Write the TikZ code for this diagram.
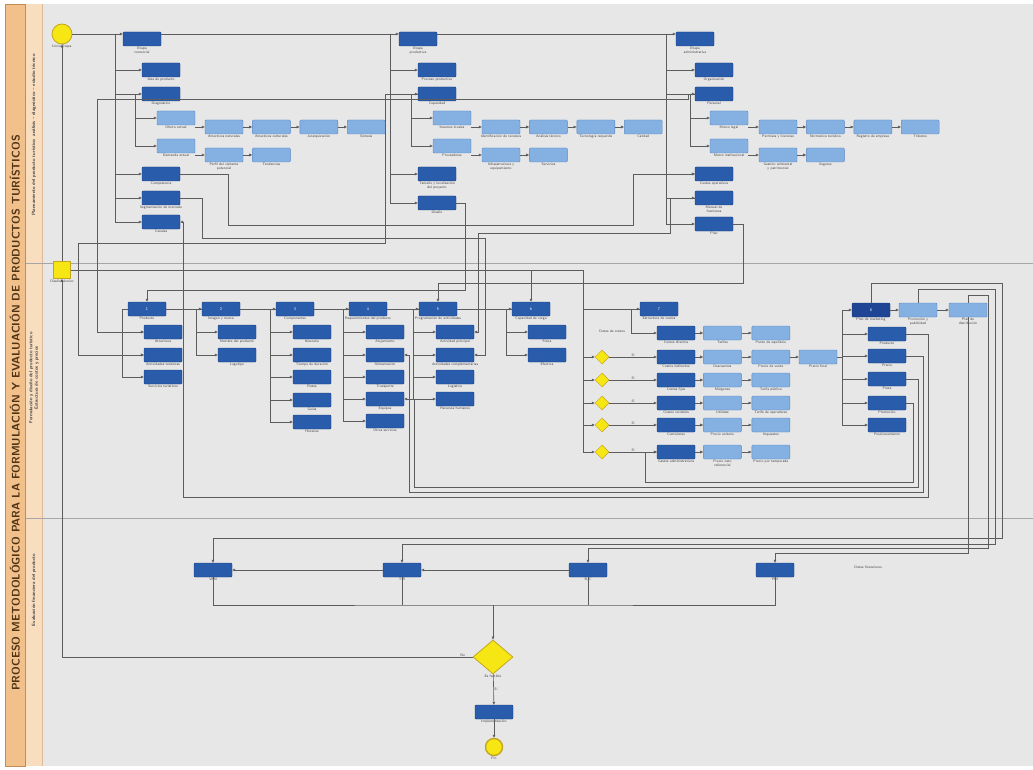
\documentclass[tikz,border=0pt]{standalone}
\usepackage{amsmath,amssymb}
\usepackage{xcolor}
\usepackage{tikz}
\usetikzlibrary{arrows.meta,positioning,shapes.geometric}

\definecolor{canvas}{RGB}{231,231,231}
\definecolor{bandA}{RGB}{242,192,138}
\definecolor{bandB}{RGB}{248,221,190}
\definecolor{bandline}{RGB}{196,140,84}
\definecolor{dkblue}{RGB}{42,92,172}
\definecolor{dkedge}{RGB}{26,62,130}
\definecolor{nvblue}{RGB}{30,70,148}
\definecolor{ltblue}{RGB}{132,176,226}
\definecolor{ltedge}{RGB}{88,134,198}
\definecolor{evyellow}{RGB}{246,230,20}
\definecolor{goldedge}{RGB}{196,166,30}
\definecolor{wire}{RGB}{92,92,92}
\definecolor{titlebrown}{RGB}{80,50,20}

\begin{document}
\begin{tikzpicture}[x=1pt,y=-1pt,
  node distance=9pt,
  dbox/.style={draw=dkedge,fill=dkblue,rounded corners=1pt,minimum height=14pt,
              minimum width=38pt,inner sep=0pt,font=\fontsize{4}{4}\selectfont\sffamily,text=white},
  lbox/.style={dbox,draw=ltedge,fill=ltblue},
  lbl/.style={font=\fontsize{3.6}{4}\selectfont\sffamily,align=center,inner sep=0.6pt,text=black!75},
  gate/.style={diamond,draw=goldedge,fill=evyellow,line width=0.5pt,minimum width=14pt,
              minimum height=14pt,inner sep=0pt},
  event/.style={circle,draw=goldedge,fill=evyellow,inner sep=0pt},
  line/.style={draw=wire,line width=0.6pt},
  arr/.style={line,-{Triangle[length=3pt,width=2.6pt]}},
  lane/.style={rotate=90,font=\fontsize{4.6}{5.6}\selectfont\sffamily\bfseries,text=black!75,align=center}
]
\useasboundingbox (0,0) rectangle (1033,770);
\fill[white] (0,0) rectangle (1033,770);
\fill[canvas] (5,4) rectangle (1033,766);
\fill[bandA] (5,4) rectangle (25,766);
\fill[bandB] (26,4) rectangle (42,766);
\draw[bandline,line width=0.8pt] (5,4) rectangle (25,766);
\draw[bandline!60,line width=0.5pt] (42,4) -- (42,766);
\draw[black!35,line width=0.7pt] (26,263) -- (1033,263);
\draw[black!35,line width=0.7pt] (26,518) -- (1033,518);

\node[rotate=90,font=\sffamily\bfseries\fontsize{11}{13}\selectfont,text=titlebrown] (ttl) at (15,413)
  {PROCESO METODOLÓGICO PARA LA FORMULACIÓN Y EVALUACIÓN DE PRODUCTOS TURÍSTICOS};
\node[lane] (ln1) at (34,135) {Planeamiento del producto turístico: análisis -- diagnóstico -- estudio técnico};
\node[lane] (ln2) at (34,378) {Formulación y diseño del producto turístico\\Estructura de costos y precios};
\node[lane] (ln3) at (34,590) {Evaluación financiera del producto};

\node[event,minimum size=20pt,line width=0.8pt,label={[lbl]below:Inicio Etapa}] (ini) at (62,34) {};
\node[dbox,label={[lbl]below:{Etapa\\comercial}}] (e1) at (142,39) {};
\node[dbox,label={[lbl]below:{Etapa\\productiva}}] (e2) at (418,39) {};
\node[dbox,label={[lbl]below:{Etapa\\administrativa}}] (e3) at (695,39) {};

\node[dbox,label={[lbl]below:Idea de producto}] (a1) at (161,70) {};
\node[dbox,label={[lbl]below:Diagnóstico}] (a2) at (161,94) {};
\node[lbox,label={[lbl]below:Oferta actual}] (a3) at (176,118) {};
\node[lbox,label={[lbl]below:Demanda actual}] (a4) at (176,146) {};
\node[lbox,label={[lbl]below:Atractivos naturales}] (a31) at (224,127) {};
\node[lbox,right=of a31,label={[lbl]below:Atractivos culturales}] (a32) {};
\node[lbox,right=of a32,label={[lbl]below:Jerarquización}] (a33) {};
\node[lbox,right=of a33,label={[lbl]below:Síntesis}] (a34) {};
\node[lbox,label={[lbl]below:{Perfil del visitante\\potencial}}] (a41) at (224,155) {};
\node[lbox,right=of a41,label={[lbl]below:Tendencias}] (a42) {};
\node[dbox,label={[lbl]below:Competencia}] (a5) at (161,174) {};
\node[dbox,label={[lbl]below:Segmentación de mercado}] (a6) at (161,198) {};
\node[dbox,label={[lbl]below:Canales}] (a7) at (161,222) {};

\node[dbox,label={[lbl]below:Proceso productivo}] (b1) at (437,70) {};
\node[dbox,label={[lbl]below:Capacidad}] (b2) at (437,94) {};
\node[lbox,label={[lbl]below:Insumos locales}] (b3) at (452,118) {};
\node[lbox,label={[lbl]below:Proveedores}] (b4) at (452,146) {};
\node[lbox,label={[lbl]below:Identificación de recursos}] (b31) at (501,127) {};
\node[lbox,right=of b31,label={[lbl]below:Análisis técnico}] (b32) {};
\node[lbox,right=of b32,label={[lbl]below:Tecnología requerida}] (b33) {};
\node[lbox,right=of b33,label={[lbl]below:Calidad}] (b34) {};
\node[lbox,label={[lbl]below:{Infraestructura y\\equipamiento}}] (b41) at (501,155) {};
\node[lbox,right=of b41,label={[lbl]below:Servicios}] (b42) {};
\node[dbox,label={[lbl]below:{Tamaño y localización\\del proyecto}}] (b5) at (437,174) {};
\node[dbox,label={[lbl]below:Diseño}] (b6) at (437,203) {};

\node[dbox,label={[lbl]below:Organización}] (c1) at (714,70) {};
\node[dbox,label={[lbl]below:Personal}] (c2) at (714,94) {};
\node[lbox,label={[lbl]below:Marco legal}] (c3) at (729,118) {};
\node[lbox,label={[lbl]below:Marco institucional}] (c4) at (729,146) {};
\node[lbox,label={[lbl]below:Permisos y licencias}] (c31) at (778,127) {};
\node[lbox,right=of c31,label={[lbl]below:Normativa turística}] (c32) {};
\node[lbox,right=of c32,label={[lbl]below:Registro de empresa}] (c33) {};
\node[lbox,right=of c33,label={[lbl]below:Tributos}] (c34) {};
\node[lbox,label={[lbl]below:{Gestión ambiental\\y patrimonial}}] (c41) at (778,155) {};
\node[lbox,right=of c41,label={[lbl]below:Seguros}] (c42) {};
\node[dbox,label={[lbl]below:Costos operativos}] (c5) at (714,174) {};
\node[dbox,label={[lbl]below:{Manual de\\funciones}}] (c6) at (714,198) {};
\node[dbox,label={[lbl]below:Plan}] (c7) at (714,224) {};

\node[fill=evyellow,draw=goldedge,line width=0.6pt,minimum size=17pt,inner sep=0pt,
      label={[lbl]below:Diseño técnico}] (sq) at (62,270) {};

\node[dbox,label={[lbl]below:Producto}] (g1) at (147,309) {1};
\node[dbox,label={[lbl]below:Atractivos}] (g11) at (163,332) {};
\node[dbox,label={[lbl]below:Actividades turísticas}] (g12) at (163,355) {};
\node[dbox,label={[lbl]below:Servicios turísticos}] (g13) at (163,377) {};
\node[dbox,label={[lbl]below:Imagen y marca}] (g2) at (221,309) {2};
\node[dbox,label={[lbl]below:Nombre del producto}] (g21) at (237,332) {};
\node[dbox,label={[lbl]below:Logotipo}] (g22) at (237,355) {};
\node[dbox,label={[lbl]below:Componentes}] (g3) at (295,309) {3};
\node[dbox,label={[lbl]below:Itinerario}] (g31) at (312,332) {};
\node[dbox,label={[lbl]below:Tiempo de duración}] (g32) at (312,355) {};
\node[dbox,label={[lbl]below:Rutas}] (g33) at (312,377) {};
\node[dbox,label={[lbl]below:Guías}] (g34) at (312,400) {};
\node[dbox,label={[lbl]below:Horarios}] (g35) at (312,422) {};
\node[dbox,label={[lbl]below:Requerimientos del producto}] (g4) at (368,309) {4};
\node[dbox,label={[lbl]below:Alojamiento}] (g41) at (385,332) {};
\node[dbox,label={[lbl]below:Alimentación}] (g42) at (385,355) {};
\node[dbox,label={[lbl]below:Transporte}] (g43) at (385,377) {};
\node[dbox,label={[lbl]below:Equipos}] (g44) at (385,399) {};
\node[dbox,label={[lbl]below:Otros servicios}] (g45) at (385,421) {};
\node[dbox,label={[lbl]below:Programación de actividades}] (g5) at (438,309) {5};
\node[dbox,label={[lbl]below:Actividad principal}] (g51) at (455,332) {};
\node[dbox,label={[lbl]below:Actividades complementarias}] (g52) at (455,355) {};
\node[dbox,label={[lbl]below:Logística}] (g53) at (455,377) {};
\node[dbox,label={[lbl]below:Recursos humanos}] (g54) at (455,399) {};
\node[dbox,label={[lbl]below:Capacidad de carga}] (g6) at (531,309) {6};
\node[dbox,label={[lbl]below:Física}] (g61) at (547,332) {};
\node[dbox,label={[lbl]below:Efectiva}] (g62) at (547,355) {};

\node[dbox,label={[lbl]below:Estructura de costos}] (g7) at (659,309) {7};
\node[lbl] (dg) at (612,331) {Datos de costos};
\node[dbox,label={[lbl]below:Costos directos}] (g71) at (676,333) {};
\node[dbox,label={[lbl]below:Costos indirectos}] (g72) at (676,357) {};
\node[dbox,label={[lbl]below:Costos fijos}] (g73) at (676,380) {};
\node[dbox,label={[lbl]below:Costos variables}] (g74) at (676,403) {};
\node[dbox,label={[lbl]below:Comisiones}] (g75) at (676,425) {};
\node[dbox,label={[lbl]below:Gastos administrativos}] (g76) at (676,452) {};
\node[lbox,right=8pt of g71,label={[lbl]below:Tarifas}] (t1) {};
\node[lbox,right=8pt of g72,label={[lbl]below:Descuentos}] (t2) {};
\node[lbox,right=8pt of g73,label={[lbl]below:Márgenes}] (t3) {};
\node[lbox,right=8pt of g74,label={[lbl]below:Utilidad}] (t4) {};
\node[lbox,right=8pt of g75,label={[lbl]below:Precio unitario}] (t5) {};
\node[lbox,right=8pt of g76,label={[lbl]below:{Precio neto\\referencial}}] (t6) {};
\node[lbox,right=10pt of t1,label={[lbl]below:Punto de equilibrio}] (v1) {};
\node[lbox,right=10pt of t2,label={[lbl]below:Precio de venta}] (v2) {};
\node[lbox,right=10pt of t3,label={[lbl]below:Tarifa pública}] (v3) {};
\node[lbox,right=10pt of t4,label={[lbl]below:Tarifa de operadores}] (v4) {};
\node[lbox,right=10pt of t5,label={[lbl]below:Impuestos}] (v5) {};
\node[lbox,right=10pt of t6,label={[lbl]below:Precio por temporada}] (v6) {};
\node[lbox,label={[lbl]below:Precio final}] (pf) at (818,357) {};
\node[gate] (d1) at (602,357) {};
\node[gate] (d2) at (602,380) {};
\node[gate] (d3) at (602,403) {};
\node[gate] (d4) at (602,425) {};
\node[gate] (d5) at (602,452) {};

\node[dbox,fill=nvblue,label={[lbl]below:Plan de marketing}] (g8) at (871,310) {8};
\node[lbox,label={[lbl]below:{Promoción y\\publicidad}}] (g8b) at (918,310) {};
\node[lbox,label={[lbl]below:{Plan de\\distribución}}] (g8c) at (968,310) {};
\node[dbox,label={[lbl]below:Producto}] (g81) at (887,334) {};
\node[dbox,label={[lbl]below:Precio}] (g82) at (887,356) {};
\node[dbox,label={[lbl]below:Plaza}] (g83) at (887,379) {};
\node[dbox,label={[lbl]below:Promoción}] (g84) at (887,403) {};
\node[dbox,label={[lbl]below:Posicionamiento}] (g85) at (887,425) {};

\node[dbox,label={[lbl]below:VAN}] (l1) at (213,570) {};
\node[dbox,label={[lbl]below:TIR}] (l2) at (402,570) {};
\node[dbox,label={[lbl]below:B/C}] (l3) at (588,570) {};
\node[dbox,label={[lbl]below:PRI}] (l4) at (775,570) {};
\node[lbl] (df) at (868,567) {Datos financieros};
\node[gate,minimum width=40pt,minimum height=34pt,line width=0.8pt,label={[lbl]below:Es factible}] (dec) at (493,657) {};
\node[dbox,label={[lbl]below:Implementación}] (pre) at (494,712) {};
\node[event,minimum size=17pt,line width=1.4pt,label={[lbl]below:Fin}] (fin) at (494,747) {};

\coordinate (sa) at (115,34);
\coordinate (sa2) at (135,94);
\coordinate (sb) at (390,34);
\coordinate (sb2) at (411,94);
\coordinate (sc) at (666,34);
\coordinate (sc2) at (690,94);
\coordinate (j7) at (583,270);
\coordinate (s8) at (842,310);
\coordinate (m) at (493,605);

\draw[arr] (ini) -- (ini -| e1.west);
\draw[arr] (e1.east |- ini) -- (e2.west |- ini);
\draw[arr] (e2.east |- ini) -- (e3.west |- ini);
\foreach \c in {a1,a2,a5,a6,a7} \draw[arr] (sa) |- (\c.west);
\foreach \c in {b1,b2,b5,b6} \draw[arr] (sb) |- (\c.west);
\foreach \c in {c1,c2,c5,c6,c7} \draw[arr] (sc) |- (\c.west);
\draw[arr] (sa2) |- (a3.west);
\draw[arr] (sa2) |- (a4.west);
\draw[arr] (sb2) |- (b3.west);
\draw[arr] (sb2) |- (b4.west);
\draw[arr] (sc2) |- (c3.west);
\draw[arr] (sc2) |- (c4.west);
\draw[arr] (a3.east |- a31.west) -- (a31.west);
\draw[arr] (a4.east |- a41.west) -- (a41.west);
\draw[arr] (b3.east |- b31.west) -- (b31.west);
\draw[arr] (b4.east |- b41.west) -- (b41.west);
\draw[arr] (c3.east |- c31.west) -- (c31.west);
\draw[arr] (c4.east |- c41.west) -- (c41.west);
\draw[arr] (a31) -- (a32);
\draw[arr] (a32) -- (a33);
\draw[arr] (a33) -- (a34);
\draw[arr] (a41) -- (a42);
\draw[arr] (b31) -- (b32);
\draw[arr] (b32) -- (b33);
\draw[arr] (b33) -- (b34);
\draw[arr] (b41) -- (b42);
\draw[arr] (c31) -- (c32);
\draw[arr] (c32) -- (c33);
\draw[arr] (c33) -- (c34);
\draw[arr] (c41) -- (c42);

\draw[arr] (a5.east) -- (228,174) |- (633,225) |- (c5.west);
\draw[arr] (c7.east) -| (743,283) -| (g5.north);
\draw[arr] (b6.east) -| (465,290) -| (g1.north);
\draw[arr] (c2.west) -| (688,99) -| (97,332) -- (g11.west);
\draw[arr] (b2.west) -| (385,243) -| (78,355) -- (g12.west);
\draw[arr] (c6.west) -| (670,233) -| (478,332) -- (g51.east);
\draw[arr] (a6.east) -- ++(22,0) |- (485,238) |- (g52.east);

\draw[arr] (sq.north) -- (ini.south);
\draw[line] (sq.east) -- (j7);
\draw[arr] (g6.north |- j7) -- (g6.north);
\draw[arr] (j7) |- (g7.west);
\foreach \d in {d1,d2,d3,d4,d5} \draw[arr] (j7) |- (\d.west);
\draw[arr] (d1) -- node[lbl,above]{Sí} (g72);
\draw[arr] (d2) -- node[lbl,above]{Sí} (g73);
\draw[arr] (d3) -- node[lbl,above]{Sí} (g74);
\draw[arr] (d4) -- node[lbl,above]{Sí} (g75);
\draw[arr] (d5) -- node[lbl,above]{Sí} (g76);
\draw[arr] (g7.west) -- ++(-9,0) |- (g71.west);
\draw[arr] (g1) -- (g2);
\draw[arr] (g2) -- (g3);
\draw[arr] (g3) -- (g4);
\draw[arr] (g4) -- (g5);
\draw[arr] (g5) -- (g6);
\foreach \c in {g11,g12,g13} \draw[arr] (g1.west) -- ++(-6,0) |- (\c.west);
\foreach \c in {g21,g22} \draw[arr] (g2.west) -- ++(-6,0) |- (\c.west);
\foreach \c in {g31,g32,g33,g34,g35} \draw[arr] (g3.west) -- ++(-6,0) |- (\c.west);
\foreach \c in {g41,g42,g43,g44,g45} \draw[arr] (g4.west) -- ++(-6,0) |- (\c.west);
\foreach \c in {g51,g52,g53,g54} \draw[arr] (g5.west) -- ++(-6,0) |- (\c.west);
\foreach \c in {g61,g62} \draw[arr] (g6.west) -- ++(-6,0) |- (\c.west);
\draw[arr] (g71) -- (t1);
\draw[arr] (g72) -- (t2);
\draw[arr] (g73) -- (t3);
\draw[arr] (g74) -- (t4);
\draw[arr] (g75) -- (t5);
\draw[arr] (g76) -- (t6);
\draw[arr] (t1) -- (v1);
\draw[arr] (t2) -- (v2);
\draw[arr] (t3) -- (v3);
\draw[arr] (t4) -- (v4);
\draw[arr] (t5) -- (v5);
\draw[arr] (t6) -- (v6);
\draw[arr] (v2) -- (pf);
\draw[line] (pf.east) -- (s8 |- pf.east);
\draw[arr] (s8) -- (g8.west);
\foreach \c in {g81,g82,g83,g84,g85} \draw[arr] (s8) |- (\c.west);
\draw[arr] (g8) -- (g8b);
\draw[arr] (g8b) -- (g8c);

\draw[arr] (g81.east) -| (928,497) -| (183,222) -- (a7.east);
\draw[arr] (g82.east) -| (923,492) -| (409,355) -- (g42.east);
\draw[arr] (g83.east) -| (918,487) -| (414,399) -- (g44.east);
\draw[arr] (g84.east) -| (913,482) -| (645,452) -- (g76.west);

\draw[arr] (g8.north) |- (1002,283) |- (213,538) -- (l1.north);
\draw[arr] (g8b.north) |- (995,289) |- (402,544) -- (l2.north);
\draw[arr] (g8c.north) |- (988,295) |- (588,548) -- (l3.north);
\draw[arr] (g8c.south) |- (775,553) -- (l4.north);

\draw[arr] (l3) -- (l2);
\draw[arr] (l2) -- (l1);
\draw[line] (l1.south) |- (m) -| (l4.south);
\draw[line] (l2.south) -- (l2.south |- m);
\draw[line] (l3.south) -- (l3.south |- m);
\draw[arr] (m) -- (dec.north);
\draw[arr] (dec) -- node[lbl,right]{Sí} (pre);
\draw[arr] (pre) -- (fin);
\draw[arr] (dec.west) -| node[lbl,above,pos=0.012]{No} (sq.south);
\end{tikzpicture}
\end{document}
